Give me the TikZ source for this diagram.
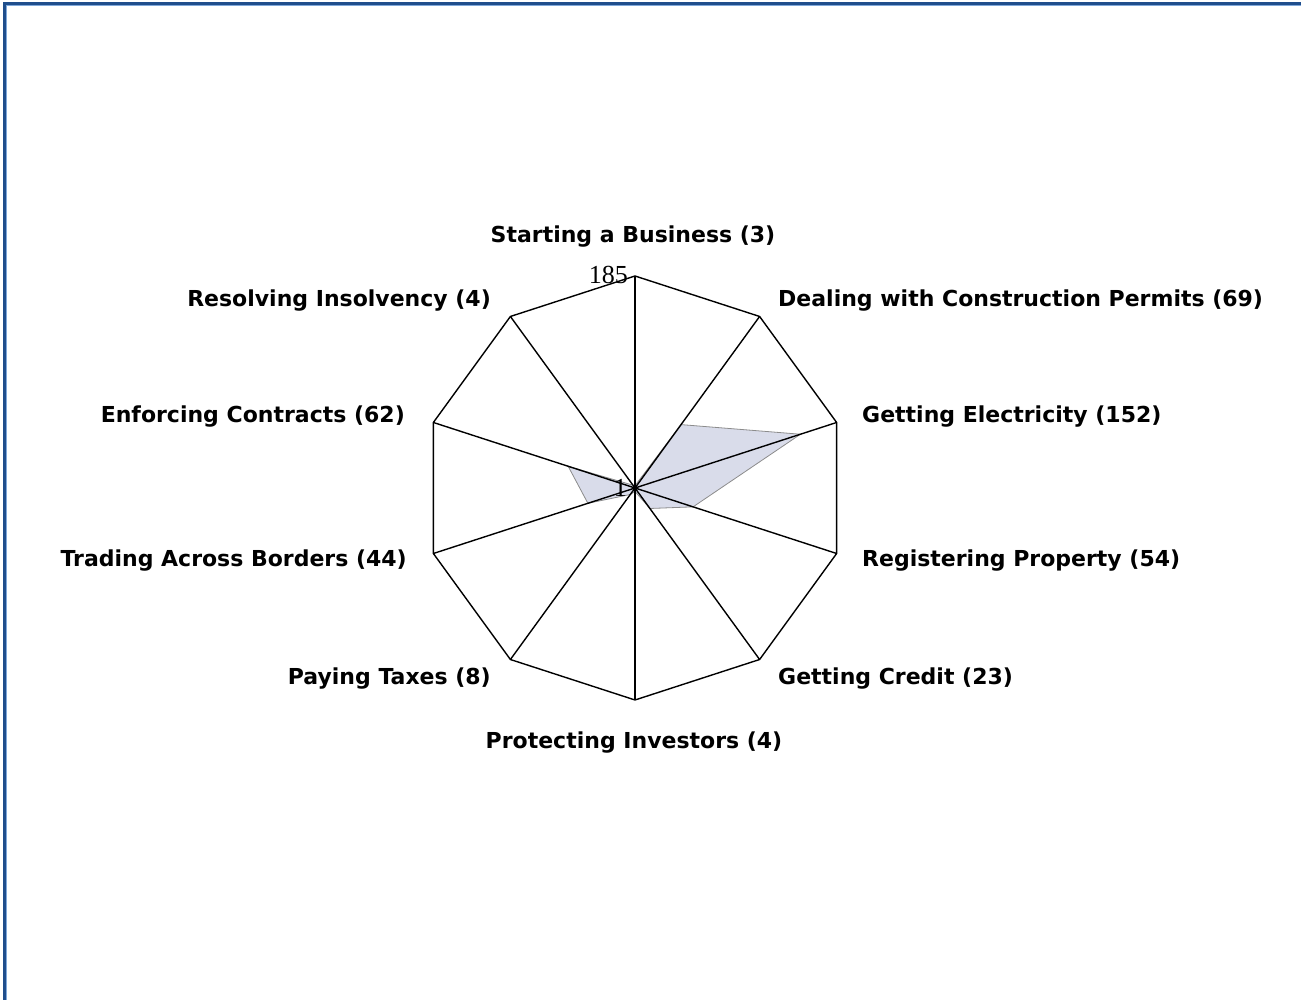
\documentclass[tikz,border=0pt]{standalone}
\usepackage{fontspec}
\setmainfont{DejaVu Sans}
\newfontfamily\numfont{Liberation Serif}
\usetikzlibrary{calc}

\definecolor{frameblue}{HTML}{1F4E8C}
\definecolor{framelight}{HTML}{7FA8DA}
\definecolor{areafill}{HTML}{D9DCEA}
\definecolor{areadraw}{HTML}{8C8C8C}

\tikzset{
    axislabel/.style = {font=\bfseries\fontsize{22}{26}\selectfont, inner sep=0pt},
    scalelabel/.style = {font=\numfont\fontsize{26}{30}\selectfont, inner sep=0pt},
    spoke/.style = {draw=black, line width=1.4pt},
}

\begin{document}
\begin{tikzpicture}[x=1pt, y=1pt]
    \useasboundingbox (0,0) rectangle (1301,1000);
    % frame
    \draw[framelight, line width=1.5pt] (6.5,0) -- (6.5,994.5) -- (1301,994.5);
    \draw[frameblue, line width=2.2pt] (4.5,0) -- (4.5,996.5) -- (1301,996.5);

    \coordinate (O) at (635,512);
    \foreach \i in {0,...,9}
        \coordinate (V\i) at ($(O)+(90-36*\i:212)$);

    % values (rank 1 at centre, 185 at rim)
    \foreach \v [count=\i from 0] in {3,69,152,54,23,4,8,44,62,4}
        \coordinate (D\i) at ($(O)+(90-36*\i:{(\v-1)/184*212})$);
    \filldraw[fill=areafill, draw=areadraw, line width=0.8pt]
        (D0) -- (D1) -- (D2) -- (D3) -- (D4) -- (D5) -- (D6) -- (D7) -- (D8) -- (D9) -- cycle;

    % decagon and spokes
    \draw[spoke] (V0) -- (V1) -- (V2) -- (V3) -- (V4) -- (V5) -- (V6) -- (V7) -- (V8) -- (V9) -- cycle;
    \foreach \i in {0,...,9}
        \draw[spoke] (O) -- (V\i);

    % scale
    \node[scalelabel, anchor=south east] (smax) at ($(V0)+(-7,-8)$) {185};
    \node[scalelabel, anchor=east] (smin) at ($(O)+(-8,0)$) {1};

    % axis names
    \node[axislabel] (l0) at (633,763) {Starting a Business (3)};
    \node[axislabel, anchor=west] (l1) at (778,699) {Dealing with Construction Permits (69)};
    \node[axislabel, anchor=west] (l2) at (862,583) {Getting Electricity (152)};
    \node[axislabel, anchor=west] (l3) at (862,439) {Registering Property (54)};
    \node[axislabel, anchor=west] (l4) at (778,321) {Getting Credit (23)};
    \node[axislabel] (l5) at (634,257) {Protecting Investors (4)};
    \node[axislabel, anchor=east] (l6) at (491,321) {Paying Taxes (8)};
    \node[axislabel, anchor=east] (l7) at (407,439) {Trading Across Borders (44)};
    \node[axislabel, anchor=east] (l8) at (405,583) {Enforcing Contracts (62)};
    \node[axislabel, anchor=east] (l9) at (491,699) {Resolving Insolvency (4)};
\end{tikzpicture}
\end{document}
